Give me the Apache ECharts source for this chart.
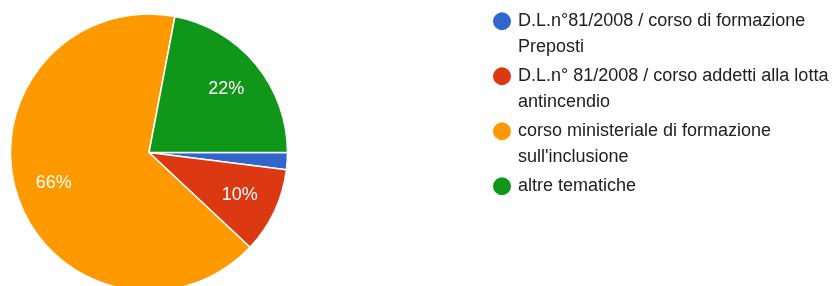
<!DOCTYPE html>
<html>
<head>
<meta charset="utf-8">
<script src="https://cdn.jsdelivr.net/npm/echarts@6/dist/echarts.min.js"></script>
<style>
  html, body { margin: 0; padding: 0; background: #fff; }
  #chart { width: 839px; height: 286px; }
</style>
</head>
<body>
<div id="chart"></div>
<script>
  // categorie e percentuali
  const categories = [
    'D.L.n°81/2008 / corso di formazione Preposti',
    'D.L.n° 81/2008 / corso addetti alla lotta antincendio',
    'corso ministeriale di formazione sull\'inclusione',
    'altre tematiche'
  ]
  const values = [2, 10, 66, 22]
  const colors = ['#3366cc', '#dc3912', '#ff9900', '#109618']

  const legendFont = '18px "Liberation Sans", Arial, sans-serif'
  const legendWidth = 335
  const lineH = 25.5

  let chart = echarts.init(document.getElementById('chart'))

  let pieData = categories.map((name, i) => ({
    name: name,
    value: values[i],
    itemStyle: { color: colors[i] }
  }))

  // la legenda centra il testo sul pallino: una riga vuota sopra porta la prima riga al centro
  let ctx = document.createElement('canvas').getContext('2d')
  ctx.font = legendFont
  function legendLabel (name) {
    let wraps = ctx.measureText(name).width > legendWidth
    return wraps ? '\n' + name : '\n' + name + '\n '
  }

  let option = {
    animation: false,
    legend: {
      orient: 'vertical',
      left: 486,
      top: -22,
      itemWidth: 20,
      itemHeight: 20,
      itemGap: 55 - 3 * lineH,
      icon: 'circle',
      selectedMode: false,
      data: categories,
      formatter: legendLabel,
      textStyle: {
        fontFamily: '"Liberation Sans", Arial, sans-serif',
        fontSize: 18,
        color: '#212121',
        width: legendWidth,
        overflow: 'break',
        lineHeight: lineH,
        padding: [0, 0, 0, 1]
      }
    },
    series: [
      {
        type: 'pie',
        center: [149, 152.5],
        radius: 138.5,
        startAngle: 0,
        clockwise: true,
        silent: true,
        label: { show: false },
        labelLine: { show: false },
        itemStyle: { borderColor: '#ffffff', borderWidth: 1.5 },
        data: pieData
      },
      {
        // solo etichette percentuali
        type: 'pie',
        center: [149, 152.5],
        radius: [56, 138.5],
        startAngle: 0,
        clockwise: true,
        silent: true,
        itemStyle: { color: 'rgba(0,0,0,0)' },
        label: {
          show: true,
          position: 'inside',
          formatter: (p) => p.value >= 5 ? p.value + '%' : '',
          color: '#ffffff',
          fontFamily: '"Liberation Sans", Arial, sans-serif',
          fontSize: 18
        },
        labelLine: { show: false },
        data: categories.map((name, i) => ({ name: name, value: values[i] }))
      }
    ]
  }

  chart.setOption(option)
</script>
</body>
</html>
